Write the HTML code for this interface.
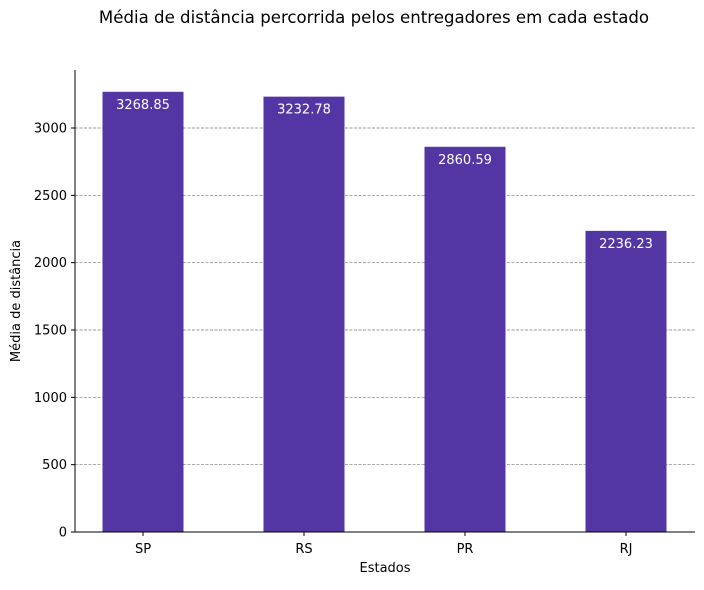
<!DOCTYPE html>
<html><head><meta charset="utf-8"><style>body{margin:0;background:#fff}svg{font-family:"DejaVu Sans","Liberation Sans",sans-serif}</style></head>
<body>
<svg width="704" height="585" id="c"></svg>
<script>
const categories=["SP","RS","PR","RJ"];
const values=[3268.85,3232.78,2860.59,2236.23];
const yTicks=[0,500,1000,1500,2000,2500,3000];
const svg=document.getElementById('c');
const NS='http://www.w3.org/2000/svg';
const L=75,R=695,B=532,T=70;
const y=v=>B-v*(404/3000);
const x=i=>143+i*161;
function mk(t,a,p){const e=document.createElementNS(NS,t);for(const k in a)e.setAttribute(k,a[k]);(p||svg).appendChild(e);return e;}
let t=mk('text',{x:374,y:23,'text-anchor':'middle','font-size':16.6,fill:'#000'});t.textContent='Média de distância percorrida pelos entregadores em cada estado';


yTicks.forEach(v=>{
 if(v>0){const g=mk('line',{x1:L,x2:R,y1:y(v),y2:y(v),stroke:'#777','stroke-width':0.7,'stroke-dasharray':'3,1.5'});
 
 }
 mk('line',{x1:L-4,x2:L,y1:y(v),y2:y(v),stroke:'#000'});
 const l=mk('text',{x:L-8,y:y(v)+4.5,'text-anchor':'end','font-size':13});l.textContent=v;
 
 
});
categories.forEach((c,i)=>{
 const b=mk('rect',{x:x(i)-40.5,y:y(values[i]),width:81,height:B-y(values[i]),fill:'#5336a3'});
 
 
 const v=mk('text',{x:x(i),y:y(values[i])+17,'text-anchor':'middle','font-size':13,fill:'#fff'});v.textContent=values[i].toFixed(2);
 
 
 mk('line',{x1:x(i),x2:x(i),y1:B,y2:B+4,stroke:'#000'});
 const l=mk('text',{x:x(i),y:B+21,'text-anchor':'middle','font-size':13});l.textContent=c;
 
 
});
mk('line',{x1:L,x2:L,y1:T,y2:B,stroke:'#000'});
mk('line',{x1:L,x2:R,y1:B,y2:B,stroke:'#000'});
const xt=mk('text',{x:385,y:572,'text-anchor':'middle','font-size':13});xt.textContent='Estados';


const yt=mk('text',{x:20,y:301,'text-anchor':'middle','font-size':13,transform:'rotate(-90 20 301)'});yt.textContent='Média de distância';


</script>
</body></html>
